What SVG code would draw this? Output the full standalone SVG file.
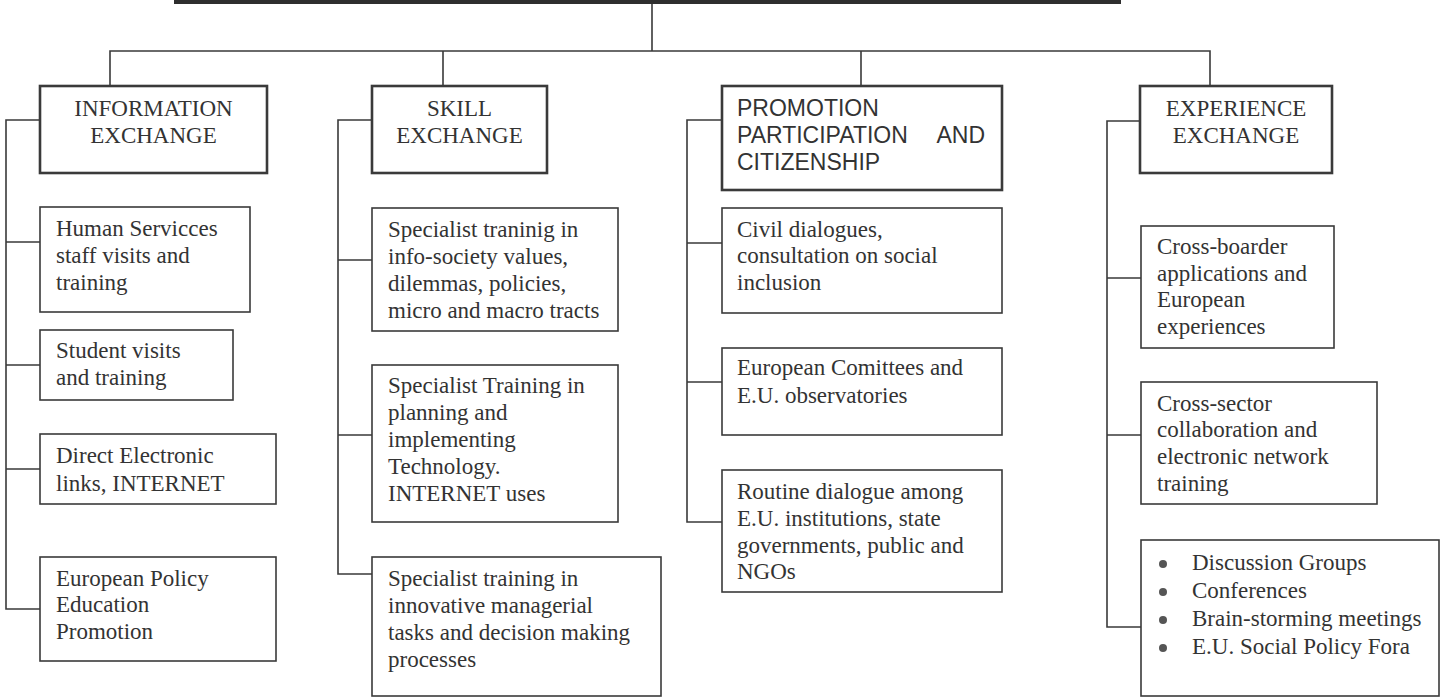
<svg xmlns="http://www.w3.org/2000/svg" width="1441" height="698" viewBox="0 0 1441 698">
<style>
.bg{fill:#ffffff}
.box{fill:#ffffff;stroke:#3a3a3a;stroke-width:1.6}
.hdr{fill:#ffffff;stroke:#3a3a3a;stroke-width:2.6}
.ln{fill:none;stroke:#3a3a3a;stroke-width:1.6}
.t{font-family:"Liberation Serif","Times New Roman",serif;font-size:23px;fill:#333}
.s{font-family:"Liberation Sans",Arial,sans-serif;font-size:23px;fill:#333}
.c{text-anchor:middle}
.b{fill:#555}
</style>
<rect class="bg" x="0" y="0" width="1441" height="698"/>
<g id="top"><rect x="174" y="-6" width="947" height="10" fill="#2e2e2e"/></g>
<g id="connectors">
<path class="ln" d="M652 4V51M110 86V51H1210V86M443 51V86M861 51V86"/>
<path class="ln" d="M40 120H6V609H40M6 242H40M6 365H40M6 469H40"/>
<path class="ln" d="M372 120H338V574H372M338 260H372M338 435H372"/>
<path class="ln" d="M722 120H687V522H722M687 243H722M687 382H722"/>
<path class="ln" d="M1140 121H1107V627H1141M1107 278H1141M1107 435H1141"/>
</g>
<g id="info-exchange"><rect class="hdr" x="40" y="86" width="227" height="87"/><text class="t c" x="153.5" y="116">INFORMATION</text><text class="t c" x="153.5" y="143">EXCHANGE</text></g>
<g id="skill-exchange"><rect class="hdr" x="372" y="86" width="175" height="87"/><text class="t c" x="459.5" y="116">SKILL</text><text class="t c" x="459.5" y="143">EXCHANGE</text></g>
<g id="promotion"><rect class="hdr" x="722" y="86" width="280" height="104"/><text class="s" x="737" y="116">PROMOTION</text><text class="s" x="737" y="143">PARTICIPATION</text><text class="s" x="985" y="143" text-anchor="end">AND</text><text class="s" x="737" y="170">CITIZENSHIP</text></g>
<g id="experience-exchange"><rect class="hdr" x="1140" y="86" width="192" height="87"/><text class="t c" x="1236" y="116">EXPERIENCE</text><text class="t c" x="1236" y="143">EXCHANGE</text></g>

<g id="i1"><rect class="box" x="40" y="207" width="210" height="105"/><text class="t" x="56" y="236">Human Servicces</text><text class="t" x="56" y="263">staff visits and</text><text class="t" x="56" y="290">training</text></g>
<g id="i2"><rect class="box" x="40" y="330" width="193" height="70"/><text class="t" x="56" y="358">Student visits</text><text class="t" x="56" y="385">and training</text></g>
<g id="i3"><rect class="box" x="40" y="434" width="236" height="70"/><text class="t" x="56" y="463">Direct Electronic</text><text class="t" x="56" y="491">links, INTERNET</text></g>
<g id="i4"><rect class="box" x="40" y="557" width="236" height="104"/><text class="t" x="56" y="586">European Policy</text><text class="t" x="56" y="612">Education</text><text class="t" x="56" y="639">Promotion</text></g>

<g id="s1"><rect class="box" x="372" y="208" width="246" height="123"/><text class="t" x="388" y="237">Specialist traninig in</text><text class="t" x="388" y="264">info-society values,</text><text class="t" x="388" y="291">dilemmas, policies,</text><text class="t" x="388" y="318">micro and macro tracts</text></g>
<g id="s2"><rect class="box" x="372" y="365" width="246" height="157"/><text class="t" x="388" y="393">Specialist Training in</text><text class="t" x="388" y="420">planning and</text><text class="t" x="388" y="447">implementing</text><text class="t" x="388" y="474">Technology.</text><text class="t" x="388" y="501">INTERNET uses</text></g>
<g id="s3"><rect class="box" x="372" y="557" width="289" height="139"/><text class="t" x="388" y="586">Specialist training in</text><text class="t" x="388" y="613">innovative managerial</text><text class="t" x="388" y="640">tasks and decision making</text><text class="t" x="388" y="667">processes</text></g>

<g id="p1"><rect class="box" x="722" y="208" width="280" height="105"/><text class="t" x="737" y="237">Civil dialogues,</text><text class="t" x="737" y="263">consultation on social</text><text class="t" x="737" y="290">inclusion</text></g>
<g id="p2"><rect class="box" x="722" y="348" width="280" height="87"/><text class="t" x="737" y="375">European Comittees and</text><text class="t" x="737" y="403">E.U. observatories</text></g>
<g id="p3"><rect class="box" x="722" y="470" width="280" height="122"/><text class="t" x="737" y="499">Routine dialogue among</text><text class="t" x="737" y="526">E.U. institutions, state</text><text class="t" x="737" y="553">governments, public and</text><text class="t" x="737" y="579">NGOs</text></g>

<g id="e1"><rect class="box" x="1141" y="226" width="193" height="122"/><text class="t" x="1157" y="254">Cross-boarder</text><text class="t" x="1157" y="281">applications and</text><text class="t" x="1157" y="307">European</text><text class="t" x="1157" y="334">experiences</text></g>
<g id="e2"><rect class="box" x="1141" y="382" width="236" height="122"/><text class="t" x="1157" y="411">Cross-sector</text><text class="t" x="1157" y="437">collaboration and</text><text class="t" x="1157" y="464">electronic network</text><text class="t" x="1157" y="491">training</text></g>
<g id="e3"><rect class="box" x="1141" y="540" width="298" height="156"/><circle class="b" cx="1163" cy="564" r="4"/><circle class="b" cx="1163" cy="592" r="4"/><circle class="b" cx="1163" cy="620" r="4"/><circle class="b" cx="1163" cy="648" r="4"/><text class="t" x="1192" y="570">Discussion Groups</text><text class="t" x="1192" y="598">Conferences</text><text class="t" x="1192" y="626">Brain-storming meetings</text><text class="t" x="1192" y="654">E.U. Social Policy Fora</text></g>
</svg>
